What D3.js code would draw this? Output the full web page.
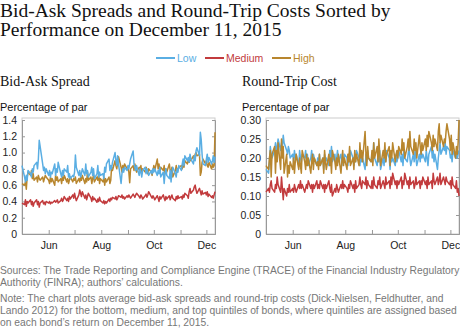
<!DOCTYPE html>
<html>
<head>
<meta charset="utf-8">
<script src="https://cdn.jsdelivr.net/npm/d3@7"></script>
<style>
  body { margin: 0; background: #fff; }
  svg { display: block; }
  .axis text { font-family: "Liberation Sans", Arial, sans-serif; font-size: 10.5px; fill: #222; }
  .axis path, .axis line { stroke: #999; }
</style>
</head>
<body>
<div class="chart"></div>
<script>
// trading days covered by both panels
const startDay = new Date(2015, 4, 1);
const endDay = new Date(2015, 11, 11);
const days = d3.timeDay.range(startDay, d3.timeDay.offset(endDay, 1))
  .filter(d => d.getDay() > 0 && d.getDay() < 6);

const seriesNames = ['Low', 'Medium', 'High'];
const monthLabels = ['Jun', 'Aug', 'Oct', 'Dec'];
const spreadTicks = [0, 0.2, 0.4, 0.6, 0.8, 1.0, 1.2, 1.4];
const costTicks = [0, 0.05, 0.10, 0.15, 0.20, 0.25, 0.30];

// bid-ask spread, percentage of par (May .. Dec, one value per trading day)
const spreadLow = [
  0.84, 0.70, 0.64, 0.72, 0.66, 0.78, 0.74, 0.70, 0.80, 0.76, 0.84, 0.88, 0.80, 0.92, 1.15, 1.08, 0.86, 0.78, 0.82, 0.74, 0.80,
  0.72, 0.78, 0.70, 0.76, 0.74, 0.86, 0.72, 0.80, 0.76, 0.88, 0.74, 0.70, 0.78, 0.72, 0.80, 0.76, 0.84, 0.70, 0.74, 0.68, 0.72, 0.70,
  0.76, 0.97, 0.82, 0.72, 0.78, 0.70, 0.74, 0.80, 0.72, 0.86, 0.74, 0.78, 0.70, 0.76, 0.82, 0.72, 0.80, 0.68, 0.74, 0.84, 0.70, 0.76, 0.72,
  0.74, 0.68, 0.82, 0.76, 0.86, 0.92, 0.78, 0.84, 0.80, 0.88, 1.00, 0.90, 0.84, 0.96, 0.86, 0.62, 0.74, 0.80, 0.76, 0.82, 0.78,
  0.84, 0.80, 0.86, 0.92, 1.02, 0.86, 0.82, 0.78, 0.84, 0.72, 0.80, 0.76, 0.70, 0.78, 0.82, 0.74, 0.80, 0.76, 0.72, 0.78, 0.74, 0.80,
  0.76, 0.80, 0.72, 0.78, 0.74, 0.82, 0.70, 0.76, 0.62, 0.74, 0.80, 0.72, 0.68, 0.78, 0.64, 0.76, 0.82, 0.74, 0.70, 0.80, 0.76, 0.84,
  0.78, 0.86, 0.92, 0.84, 0.96, 0.90, 0.94, 0.88, 0.98, 0.92, 0.86, 0.96, 0.90, 1.02, 1.06, 0.96, 1.25, 1.16, 0.98, 0.86, 0.84,
  0.92, 0.98, 0.88, 0.94, 0.86, 0.90, 0.96, 0.88, 0.95
];
const spreadMedium = [
  0.38, 0.36, 0.42, 0.34, 0.40, 0.38, 0.42, 0.36, 0.40, 0.34, 0.38, 0.42, 0.36, 0.40, 0.33, 0.38, 0.41, 0.37, 0.39, 0.36, 0.40,
  0.38, 0.40, 0.37, 0.39, 0.38, 0.41, 0.39, 0.40, 0.42, 0.38, 0.41, 0.44, 0.40, 0.42, 0.46, 0.41, 0.44, 0.40, 0.46, 0.43, 0.48, 0.44,
  0.50, 0.45, 0.41, 0.48, 0.54, 0.50, 0.46, 0.52, 0.44, 0.48, 0.42, 0.46, 0.50, 0.44, 0.40, 0.46, 0.42, 0.44, 0.39, 0.43, 0.40, 0.45, 0.41,
  0.38, 0.41, 0.37, 0.40, 0.38, 0.43, 0.40, 0.44, 0.42, 0.45, 0.43, 0.46, 0.42, 0.44, 0.47, 0.45, 0.48, 0.44, 0.46, 0.43, 0.47,
  0.45, 0.48, 0.46, 0.44, 0.49, 0.47, 0.45, 0.48, 0.50, 0.46, 0.44, 0.48, 0.46, 0.43, 0.47, 0.49, 0.45, 0.48, 0.52, 0.46, 0.44, 0.47,
  0.45, 0.42, 0.47, 0.44, 0.40, 0.46, 0.43, 0.48, 0.44, 0.41, 0.46, 0.43, 0.47, 0.42, 0.45, 0.48, 0.44, 0.41, 0.46, 0.43, 0.47, 0.44,
  0.46, 0.43, 0.48, 0.45, 0.50, 0.47, 0.44, 0.52, 0.56, 0.50, 0.54, 0.58, 0.60, 0.54, 0.50, 0.56, 0.52, 0.48, 0.53, 0.49, 0.51,
  0.48, 0.52, 0.46, 0.49, 0.45, 0.47, 0.44, 0.48, 0.52
];
const spreadHigh = [
  0.62, 0.60, 0.64, 0.55, 0.70, 0.76, 0.72, 0.78, 0.68, 0.74, 0.66, 0.70, 0.64, 0.72, 0.68, 0.66, 0.70, 0.64, 0.68, 0.72, 0.70,
  0.66, 0.62, 0.70, 0.64, 0.68, 0.60, 0.72, 0.66, 0.70, 0.64, 0.68, 0.62, 0.70, 0.66, 0.72, 0.64, 0.68, 0.62, 0.66, 0.70, 0.64, 0.68,
  0.66, 0.70, 0.62, 0.68, 0.64, 0.70, 0.66, 0.72, 0.62, 0.68, 0.64, 0.76, 0.66, 0.70, 0.62, 0.68, 0.72, 0.64, 0.70, 0.66, 0.74, 0.62, 0.68,
  0.64, 0.70, 0.60, 0.68, 0.64, 0.70, 0.62, 0.66, 0.82, 0.78, 0.90, 0.84, 0.80, 0.88, 0.95, 0.82, 0.76, 0.84, 0.78, 0.86, 0.80,
  0.82, 0.76, 0.63, 0.80, 0.84, 0.78, 0.86, 0.80, 0.76, 0.82, 0.78, 0.84, 0.74, 0.80, 0.76, 0.82, 0.78, 0.74, 0.80, 0.76, 0.72, 0.78,
  0.84, 0.78, 0.92, 0.80, 0.86, 0.76, 0.82, 0.78, 0.84, 0.74, 0.80, 0.76, 0.86, 0.78, 0.74, 0.82, 0.70, 0.78, 0.84, 0.76, 0.80, 0.82,
  0.84, 0.80, 0.88, 0.82, 0.90, 0.86, 0.92, 0.88, 0.94, 0.90, 0.96, 0.92, 0.98, 1.00, 0.96, 0.98, 0.72, 0.76, 0.88, 0.92, 0.86,
  0.90, 0.84, 0.82, 0.88, 0.80, 0.86, 0.82, 0.84, 1.25
];

// round-trip cost, percentage of par
const costLow = [
  0.17, 0.16, 0.19, 0.23, 0.21, 0.20, 0.22, 0.24, 0.21, 0.23, 0.25, 0.22, 0.24, 0.23, 0.26, 0.24, 0.22, 0.21, 0.23, 0.22, 0.20,
  0.21, 0.19, 0.22, 0.20, 0.21, 0.18, 0.22, 0.20, 0.19, 0.21, 0.20, 0.22, 0.19, 0.21, 0.18, 0.20, 0.22, 0.19, 0.21, 0.20, 0.18, 0.20,
  0.19, 0.21, 0.18, 0.20, 0.17, 0.21, 0.19, 0.20, 0.18, 0.22, 0.20, 0.23, 0.19, 0.21, 0.18, 0.20, 0.22, 0.19, 0.21, 0.18, 0.20, 0.19, 0.21,
  0.20, 0.18, 0.21, 0.19, 0.22, 0.20, 0.18, 0.21, 0.19, 0.22, 0.20, 0.18, 0.21, 0.19, 0.20, 0.17, 0.21, 0.19, 0.22, 0.20, 0.19,
  0.21, 0.19, 0.24, 0.20, 0.18, 0.21, 0.19, 0.22, 0.17, 0.20, 0.18, 0.21, 0.19, 0.22, 0.20, 0.17, 0.21, 0.19, 0.20, 0.18, 0.21, 0.19,
  0.20, 0.22, 0.19, 0.21, 0.18, 0.22, 0.20, 0.19, 0.21, 0.23, 0.20, 0.18, 0.21, 0.19, 0.22, 0.20, 0.18, 0.21, 0.19, 0.22, 0.20, 0.21,
  0.19, 0.22, 0.20, 0.18, 0.21, 0.23, 0.20, 0.22, 0.19, 0.21, 0.17, 0.20, 0.22, 0.24, 0.21, 0.23, 0.22, 0.24, 0.21, 0.23, 0.22,
  0.20, 0.21, 0.19, 0.22, 0.20, 0.21, 0.20, 0.21, 0.22
];
const costMedium = [
  0.11, 0.12, 0.11, 0.13, 0.14, 0.12, 0.11, 0.13, 0.12, 0.15, 0.13, 0.11, 0.15, 0.12, 0.09, 0.12, 0.10, 0.12, 0.11, 0.13, 0.11,
  0.12, 0.11, 0.13, 0.12, 0.11, 0.13, 0.12, 0.14, 0.12, 0.13, 0.11, 0.12, 0.13, 0.12, 0.14, 0.12, 0.13, 0.11, 0.13, 0.12, 0.14, 0.12,
  0.13, 0.12, 0.14, 0.12, 0.13, 0.11, 0.13, 0.12, 0.14, 0.12, 0.11, 0.13, 0.10, 0.12, 0.11, 0.13, 0.12, 0.11, 0.13, 0.12, 0.14, 0.12, 0.13,
  0.12, 0.11, 0.13, 0.12, 0.14, 0.12, 0.13, 0.11, 0.14, 0.12, 0.13, 0.15, 0.13, 0.12, 0.14, 0.13, 0.15, 0.12, 0.14, 0.13, 0.12,
  0.14, 0.12, 0.15, 0.13, 0.12, 0.14, 0.13, 0.15, 0.12, 0.14, 0.13, 0.12, 0.15, 0.13, 0.14, 0.12, 0.15, 0.13, 0.16, 0.13, 0.14, 0.12,
  0.14, 0.13, 0.15, 0.12, 0.14, 0.13, 0.16, 0.13, 0.14, 0.12, 0.15, 0.13, 0.14, 0.12, 0.13, 0.15, 0.13, 0.14, 0.12, 0.14, 0.13, 0.15,
  0.13, 0.14, 0.12, 0.15, 0.13, 0.14, 0.12, 0.16, 0.14, 0.13, 0.15, 0.13, 0.14, 0.16, 0.13, 0.15, 0.14, 0.13, 0.15, 0.14, 0.13,
  0.14, 0.12, 0.15, 0.13, 0.12, 0.14, 0.11, 0.12, 0.10
];
const costHigh = [
  0.18, 0.17, 0.20, 0.22, 0.15, 0.21, 0.23, 0.16, 0.22, 0.19, 0.24, 0.17, 0.25, 0.20, 0.23, 0.16, 0.21, 0.15, 0.18, 0.16, 0.19,
  0.17, 0.20, 0.16, 0.19, 0.21, 0.17, 0.20, 0.18, 0.16, 0.22, 0.19, 0.17, 0.21, 0.18, 0.20, 0.16, 0.19, 0.21, 0.17, 0.20, 0.18, 0.19,
  0.17, 0.21, 0.18, 0.20, 0.16, 0.22, 0.19, 0.17, 0.21, 0.18, 0.20, 0.16, 0.22, 0.19, 0.17, 0.20, 0.18, 0.21, 0.16, 0.19, 0.22, 0.18, 0.20,
  0.17, 0.21, 0.19, 0.23, 0.18, 0.20, 0.17, 0.22, 0.19, 0.21, 0.18, 0.24, 0.20, 0.22, 0.19, 0.27, 0.21, 0.18, 0.23, 0.20, 0.19,
  0.22, 0.18, 0.24, 0.20, 0.23, 0.19, 0.25, 0.21, 0.18, 0.22, 0.20, 0.24, 0.19, 0.21, 0.23, 0.18, 0.22, 0.20, 0.24, 0.19, 0.21, 0.22,
  0.20, 0.23, 0.21, 0.25, 0.22, 0.24, 0.20, 0.23, 0.25, 0.22, 0.27, 0.23, 0.21, 0.25, 0.22, 0.24, 0.20, 0.26, 0.23, 0.21, 0.24, 0.22,
  0.25, 0.22, 0.26, 0.23, 0.27, 0.24, 0.22, 0.26, 0.23, 0.25, 0.22, 0.27, 0.29, 0.24, 0.26, 0.23, 0.25, 0.24, 0.27, 0.29, 0.25,
  0.22, 0.26, 0.21, 0.24, 0.20, 0.23, 0.21, 0.24, 0.30
];

const colors = {Low: '#5aaee3', Medium: '#c23b3d', High: '#b8862e'};

const width = 460, height = 331;
const plotTop = 120, plotBottom = 234;

const svg = d3.select('.chart').append('svg')
  .attr('width', width)
  .attr('height', height);

// title
const title = svg.append('text')
  .attr('font-family', '"Liberation Serif", Georgia, serif')
  .attr('font-size', 19.5)
  .attr('fill', '#111');
title.append('tspan').attr('x', 0).attr('y', 17).text('Bid-Ask Spreads and Round-Trip Costs Sorted by');
title.append('tspan').attr('x', 0).attr('y', 36).text('Performance on December 11, 2015');

// legend
const legendX = [156, 205, 272];
const legend = svg.selectAll('.legend')
  .data(seriesNames)
  .enter().append('g')
    .attr('class', 'legend')
    .attr('transform', (d, i) => `translate(${legendX[i]}, 58)`);
legend.append('line')
  .attr('x1', 0).attr('x2', 19)
  .attr('stroke', d => colors[d])
  .attr('stroke-width', 2);
legend.append('text')
  .attr('x', 21).attr('dy', '0.35em')
  .attr('font-family', '"Liberation Sans", Arial, sans-serif')
  .attr('font-size', 10.5)
  .attr('fill', d => colors[d])
  .text(d => d);

function drawPanel(opts) {
  const g = svg.append('g');

  const x = d3.scaleTime()
    .domain([startDay, endDay])
    .range([opts.left, opts.right]);
  const y = d3.scaleLinear()
    .domain([0, opts.ticks[opts.ticks.length - 1]])
    .range([plotBottom, plotTop]);

  g.append('text')
    .attr('x', opts.titleX).attr('y', 86)
    .attr('font-family', '"Liberation Serif", Georgia, serif')
    .attr('font-size', 14)
    .attr('fill', '#111')
    .text(opts.title);

  g.append('text')
    .attr('x', opts.titleX).attr('y', 111)
    .attr('font-family', '"Liberation Sans", Arial, sans-serif')
    .attr('font-size', 11)
    .attr('fill', '#111')
    .text('Percentage of par');

  // frame
  g.append('rect')
    .attr('x', opts.left).attr('y', plotTop - 2)
    .attr('width', opts.right - opts.left)
    .attr('height', plotBottom - plotTop + 2)
    .attr('fill', 'none')
    .attr('stroke', '#ccc');

  g.append('g')
    .attr('class', 'axis')
    .attr('transform', `translate(${opts.left},0)`)
    .call(d3.axisLeft(y).tickValues(opts.ticks).tickSize(-3).tickPadding(5)
      .tickFormat(d => d === 0 ? '0' : d3.format(opts.fmt)(d)));

  g.append('g')
    .attr('class', 'axis')
    .attr('transform', `translate(${opts.right},0)`)
    .call(d3.axisRight(y).tickValues(opts.ticks).tickSize(-3).tickFormat(''));

  const months = d3.timeMonth.range(startDay, endDay);
  g.append('g')
    .attr('class', 'axis')
    .attr('transform', `translate(0,${plotBottom})`)
    .call(d3.axisBottom(x).tickValues(months).tickSize(-4).tickPadding(8)
      .tickFormat(d => {
        const m = d3.timeFormat('%b')(d);
        return monthLabels.includes(m) ? m : '';
      }));

  const line = d3.line()
    .x((d, i) => x(days[i]))
    .y(d => y(d));

  g.selectAll('.series')
    .data(opts.series)
    .enter().append('path')
      .attr('class', 'series')
      .attr('fill', 'none')
      .attr('stroke', d => colors[d.name])
      .attr('stroke-width', 1.5)
      .attr('stroke-linejoin', 'round')
      .attr('d', d => line(d.values));
}

drawPanel({
  title: 'Bid-Ask Spread', titleX: 0, left: 22, right: 215,
  ticks: spreadTicks, fmt: '.1f',
  series: [
    {name: 'Medium', values: spreadMedium},
    {name: 'High', values: spreadHigh},
    {name: 'Low', values: spreadLow}
  ]
});

drawPanel({
  title: 'Round-Trip Cost', titleX: 242, left: 266, right: 459,
  ticks: costTicks, fmt: '.2f',
  series: [
    {name: 'Medium', values: costMedium},
    {name: 'Low', values: costLow},
    {name: 'High', values: costHigh}
  ]
});

// notes
const notes = svg.append('text')
  .attr('font-family', '"Liberation Sans", Arial, sans-serif')
  .attr('font-size', 10.3)
  .attr('fill', '#777');
[
  [0, 274, 'Sources: The Trade Reporting and Compliance Engine (TRACE) of the Financial Industry Regulatory'],
  [0, 286, 'Authority (FINRA); authors\u2019 calculations.'],
  [0, 302, 'Note: The chart plots average bid-ask spreads and round-trip costs (Dick-Nielsen, Feldhutter, and'],
  [0, 314, 'Lando 2012) for the bottom, medium, and top quintiles of bonds, where quintiles are assigned based'],
  [0, 326, 'on each bond\u2019s return on December 11, 2015.']
].forEach(r => {
  notes.append('tspan').attr('x', r[0]).attr('y', r[1]).text(r[2]);
});
</script>
</body>
</html>
